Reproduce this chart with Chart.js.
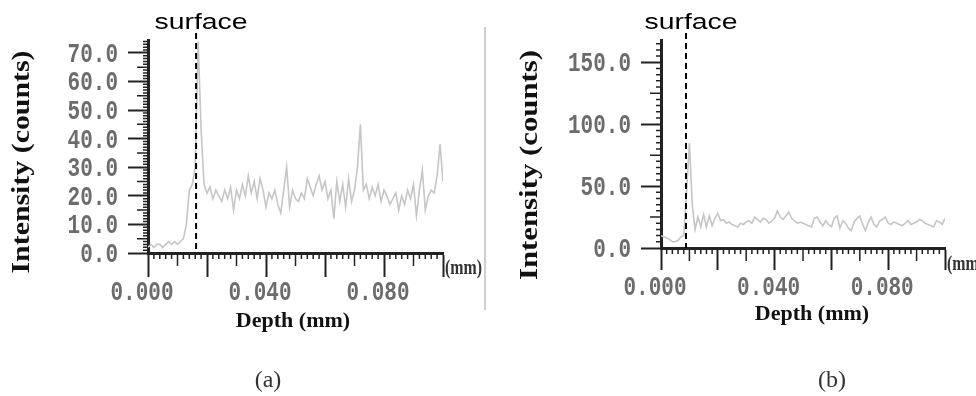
<!DOCTYPE html>
<html>
<head>
<meta charset="utf-8">
<script src="https://cdn.jsdelivr.net/npm/chart.js@4.4.1/dist/chart.umd.min.js"></script>
<style>
  body { margin: 0; background: #fff; }
  #wrap { position: relative; width: 976px; height: 396px; overflow: hidden; }
  canvas { position: absolute; top: 0; }
</style>
</head>
<body>
<div id="wrap">
  <canvas id="graf_a" width="488" height="396" style="left:0"></canvas>
  <canvas id="graf_b" width="488" height="396" style="left:488px"></canvas>
</div>
<script>
// depth profile, one sample every 0.001 mm from 0.000 to 0.100 mm
var depthStep = 0.001;
var depthLabels = ['0.000', '0.040', '0.080'];

// (a) intensity counts
var intensityA = [
  2, 3, 2, 3, 3, 2, 3, 4, 3, 4, 3, 4, 5, 10, 22, 24, 30, 74, 43, 24,
  21, 23, 19, 22, 20, 18, 22, 19, 23, 15, 22, 19, 24, 20, 27, 21, 25, 19, 26, 22,
  16, 21, 19, 22, 17, 14, 22, 30, 16, 22, 19, 18, 21, 19, 26, 23, 20, 24, 27, 22,
  25, 19, 22, 12, 25, 18, 24, 16, 26, 18, 22, 30, 45, 22, 24, 19, 23, 20, 24, 18,
  22, 20, 17, 19, 21, 15, 20, 17, 22, 19, 24, 13, 22, 29, 15, 20, 22, 21, 27, 38,
  25
];
// (b) intensity counts
var intensityB = [
  10, 9, 8, 7, 5, 5, 6, 9, 10, 45, 85, 35, 15, 25, 17, 27, 17, 26, 18, 24,
  28, 22, 23, 20, 21, 19, 18, 17, 20, 19, 21, 22, 20, 25, 23, 21, 24, 23, 20, 22,
  24, 30, 25, 23, 26, 29, 24, 22, 20, 21, 20, 19, 18, 17, 24, 25, 21, 18, 22, 19,
  17, 24, 26, 16, 22, 20, 16, 14, 21, 24, 26, 19, 14, 21, 25, 19, 17, 22, 23, 25,
  20, 19, 21, 20, 19, 18, 20, 22, 19, 20, 21, 23, 22, 20, 19, 18, 17, 22, 21, 19,
  24
];
// depth of the sample surface (mm)
var surfaceA = 0.0163;
var surfaceB = 0.0088;

var ink = '#222';
var labelGray = '#6c6c6c';

// small ticks between the labelled ones
function minorTicks(ctx, scale, isX, minor, count, every, medEvery, lenMin, lenMed) {
  ctx.save();
  ctx.strokeStyle = ink;
  ctx.lineWidth = 1.5;
  ctx.beginPath();
  for (var k = 1; k <= count; k++) {
    if (k % every === 0) continue;
    var len = (k % medEvery === 0) ? lenMed : lenMin;
    var p = scale.getPixelForValue(k * minor);
    if (isX) {
      ctx.moveTo(p, scale.top);
      ctx.lineTo(p, scale.top + len);
    } else {
      ctx.moveTo(scale.right, p);
      ctx.lineTo(scale.right - len, p);
    }
  }
  ctx.stroke();
  ctx.restore();
}

// tall narrow tick labels at the scale's own tick positions
function tallLabels(ctx, scale, isX, fmt, pos) {
  ctx.save();
  ctx.fillStyle = labelGray;
  ctx.font = 'bold 21px "Liberation Mono"';
  ctx.textBaseline = 'middle';
  ctx.textAlign = isX ? 'center' : 'right';
  scale.ticks.forEach(function (t) {
    var txt = fmt(t.value);
    if (!txt) return;
    var p = scale.getPixelForValue(t.value);
    ctx.save();
    if (isX) ctx.translate(p - 6, pos);
    else ctx.translate(pos, p + 2);
    ctx.scale(1, 1.3);
    ctx.fillText(txt, 0, 0);
    ctx.restore();
  });
  ctx.restore();
}

function stretchedText(ctx, text, font, len) {
  ctx.font = font;
  var w = ctx.measureText(text).width;
  ctx.scale(len / w, 1);
  ctx.fillText(text, 0, 0);
}

function depthText(v) {
  var i = depthLabels.indexOf(v.toFixed(3));
  return i >= 0 ? depthLabels[i] : '';
}

function panelPlugin(o) {
  return {
    id: 'panelExtras',
    afterDatasetsDraw: function (chart) {
      var ctx = chart.ctx;
      var xs = chart.scales.x, ys = chart.scales.y;
      var area = chart.chartArea;

      minorTicks(ctx, xs, true, 0.002, 50, 10, 5, 6, 13);
      minorTicks(ctx, ys, false, o.yMinor, o.yMinorCount, o.yEvery, o.yMed, 5, 11);
      tallLabels(ctx, xs, true, depthText, o.xLabelY);
      tallLabels(ctx, ys, false, function (v) { return v.toFixed(1); }, area.left - 30);

      // surface marker
      var sx = xs.getPixelForValue(o.surface);
      ctx.save();
      ctx.strokeStyle = '#000';
      ctx.lineWidth = 2;
      ctx.setLineDash([6, 4]);
      ctx.beginPath();
      ctx.moveTo(sx, 33);
      ctx.lineTo(sx, area.bottom);
      ctx.stroke();
      ctx.restore();

      ctx.save();
      ctx.fillStyle = '#000';
      ctx.textAlign = 'center';
      ctx.textBaseline = 'alphabetic';
      ctx.translate(o.surfaceX, 29);
      stretchedText(ctx, 'surface', '22px "Liberation Sans"', 93);
      ctx.restore();

      // axis titles
      ctx.save();
      ctx.fillStyle = '#111';
      ctx.textAlign = 'center';
      ctx.textBaseline = 'middle';
      ctx.translate(o.yTitleX, o.yTitleY);
      ctx.rotate(-Math.PI / 2);
      stretchedText(ctx, 'Intensity (counts)', 'bold 26px "Liberation Serif"', o.yTitleLen);
      ctx.restore();

      ctx.save();
      ctx.fillStyle = '#111';
      ctx.textAlign = 'center';
      ctx.font = 'bold 22px "Liberation Serif"';
      ctx.fillText('Depth (mm)', o.xTitleX, o.xTitleY);
      ctx.restore();

      ctx.save();
      ctx.fillStyle = '#333';
      ctx.textAlign = 'left';
      ctx.translate(area.right + 2, o.mmY);
      stretchedText(ctx, '(mm)', 'bold 20px "Liberation Serif"', 37);
      ctx.restore();

      ctx.save();
      ctx.font = '24px "Liberation Serif"';
      ctx.textAlign = 'center';
      ctx.textBaseline = 'middle';
      ctx.fillStyle = '#333';
      ctx.fillText(o.tag, o.tagX, 381);
      ctx.restore();

      if (o.divider) {
        ctx.save();
        ctx.strokeStyle = '#cfcfcf';
        ctx.lineWidth = 2;
        ctx.beginPath();
        ctx.moveTo(485, 27);
        ctx.lineTo(485, 310);
        ctx.stroke();
        ctx.restore();
      }
    }
  };
}

function makePanel(id, values, o) {
  var points = values.map(function (v, i) { return { x: i * depthStep, y: v }; });
  return new Chart(document.getElementById(id).getContext('2d'), {
    type: 'line',
    data: {
      datasets: [{
        data: points,
        borderColor: '#c6c6c6',
        borderWidth: 1.6,
        pointRadius: 0,
        tension: 0,
        fill: false
      }]
    },
    options: {
      responsive: false,
      animation: false,
      devicePixelRatio: 1,
      layout: { padding: { top: 40, right: o.padRight, left: 0, bottom: 0 } },
      plugins: { legend: { display: false }, tooltip: { enabled: false } },
      scales: {
        x: {
          type: 'linear',
          min: 0,
          max: 0.1,
          afterFit: function (s) { s.height = 396 - o.bottom; },
          border: { color: ink, width: 3 },
          grid: { drawOnChartArea: false, tickLength: o.xTickLen, tickWidth: 2, tickColor: ink },
          ticks: { stepSize: 0.02, autoSkip: false, maxRotation: 0, display: false }
        },
        y: {
          min: 0,
          max: o.yMax,
          afterFit: function (s) { s.width = o.left; },
          border: { color: ink, width: 3 },
          grid: { drawOnChartArea: false, tickLength: 20, tickWidth: 2, tickColor: ink },
          ticks: { stepSize: o.yStep, includeBounds: false, display: false }
        }
      }
    },
    plugins: [panelPlugin(o)]
  });
}

makePanel('graf_a', intensityA, {
  left: 148, padRight: 45, bottom: 253, yMax: 74.5, yStep: 10,
  yMinor: 1, yMinorCount: 74, yEvery: 10, yMed: 5,
  xTickLen: 24, xLabelY: 293,
  surface: surfaceA, surfaceX: 201,
  yTitleX: 22, yTitleY: 162, yTitleLen: 223,
  xTitleX: 293, xTitleY: 327, mmY: 274,
  tag: '(a)', tagX: 268, divider: true
});

makePanel('graf_b', intensityB, {
  left: 173, padRight: 31, bottom: 248, yMax: 168, yStep: 50,
  yMinor: 5, yMinorCount: 33, yEvery: 10, yMed: 5,
  xTickLen: 22, xLabelY: 288,
  surface: surfaceB, surfaceX: 203,
  yTitleX: 42, yTitleY: 165, yTitleLen: 230,
  xTitleX: 324, xTitleY: 320, mmY: 270,
  tag: '(b)', tagX: 344, divider: false
});
</script>
</body>
</html>
